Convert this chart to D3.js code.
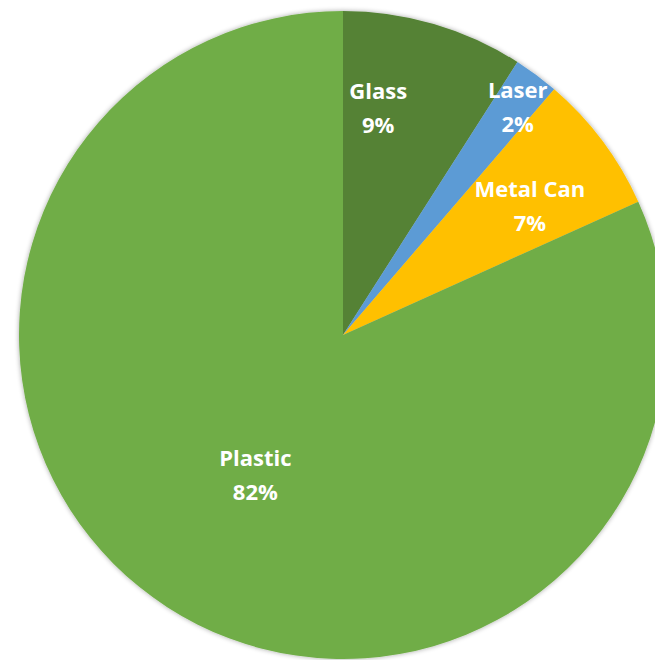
<!DOCTYPE html>
<html><head><meta charset="utf-8">
<script src="https://cdn.jsdelivr.net/npm/d3@7"></script>
<style>html,body{margin:0;padding:0;background:#fff;overflow:hidden}</style>
</head><body>
<svg id="chart" width="655" height="660"></svg>
<script>
const categories = ["Glass", "Laser", "Metal Can", "Plastic"];
const values = [9.05, 2.25, 6.95, 81.75];
const percentLabels = ["9%", "2%", "7%", "82%"];
const colors = ["#548235", "#5B9BD5", "#FFC000", "#70AD47"];

// label placement (polar: distance from centre, angle in degrees clockwise from 12 o'clock)
const labelPolar = [[230, 8.8], [287, 37.5], [227, 55.4], [165, 212.1]];

const svg = d3.select("#chart");
const cx = 343, cy = 335, R = 324;

const defs = svg.append("defs");
const f = defs.append("filter").attr("id","sh").attr("x","-10%").attr("y","-10%").attr("width","120%").attr("height","120%");
f.append("feGaussianBlur").attr("in","SourceAlpha").attr("stdDeviation",2.5).attr("result","b");
f.append("feOffset").attr("in","b").attr("dx",0).attr("dy",0).attr("result","o");
f.append("feComponentTransfer").attr("in","o").attr("result","o2").append("feFuncA").attr("type","linear").attr("slope",0.35);
const m = f.append("feMerge"); m.append("feMergeNode").attr("in","o2"); m.append("feMergeNode").attr("in","SourceGraphic");

const data = categories.map((c,i)=>({name:c, value:values[i], pct:percentLabels[i], color:colors[i], lp:labelPolar[i]}));
const pie = d3.pie().value(d=>d.value).sort(null);
const arc = d3.arc().innerRadius(0).outerRadius(R);

const g = svg.append("g").attr("transform",`translate(${cx},${cy})`);
g.append("g").attr("filter","url(#sh)").selectAll("path").data(pie(data)).join("path")
  .attr("d", arc).attr("fill", d=>d.data.color);

const lab = g.selectAll("text.lbl").data(pie(data)).join("text").attr("class","lbl")
  .attr("text-anchor","middle")
  .attr("font-family","'Open Sans', 'Noto Sans', sans-serif")
  .attr("font-weight","bold").attr("font-size", 22).attr("fill","#fff")
  .attr("transform", d=>{
    const a = d.data.lp[1]*Math.PI/180, r = d.data.lp[0];
    return `translate(${r*Math.sin(a)},${-r*Math.cos(a)})`;
  });
lab.append("tspan").attr("x",0).attr("y",-9).text(d=>d.data.name);
lab.append("tspan").attr("x",0).attr("y",25).text(d=>d.data.pct);
</script>
</body></html>
